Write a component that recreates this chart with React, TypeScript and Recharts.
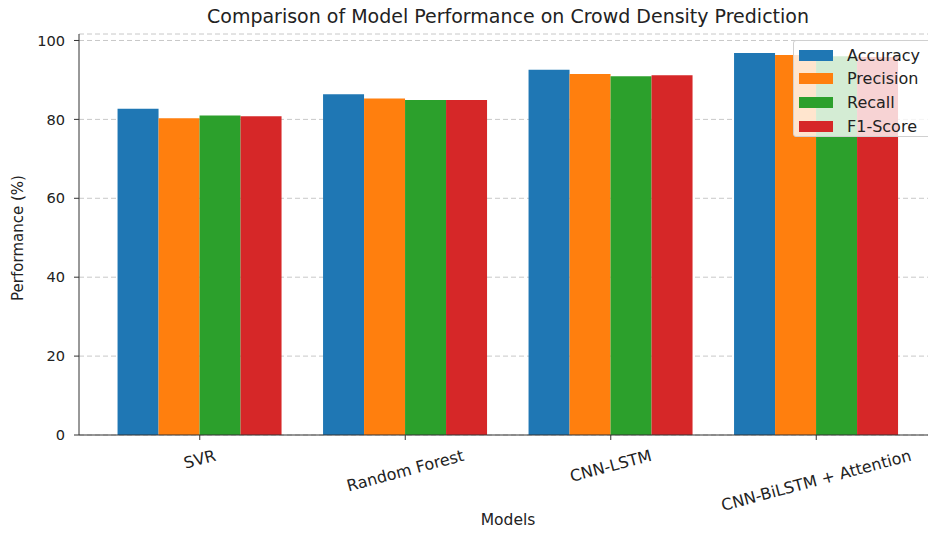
import React from "react"
import { Bar, BarChart, CartesianGrid, XAxis, YAxis } from "recharts"

// values
const models = ["SVR", "Random Forest", "CNN-LSTM", "CNN-BiLSTM + Attention"]
const accuracy = [82.7, 86.4, 92.6, 96.8]
const precision = [80.3, 85.3, 91.5, 96.3]
const recall = [81.0, 84.9, 90.9, 96.0]
const f1Score = [80.8, 84.9, 91.2, 95.8]
const yTicks = [0, 20, 40, 60, 80, 100]

const series = [
  { key: "accuracy", name: "Accuracy", color: "#1f77b4", values: accuracy },
  { key: "precision", name: "Precision", color: "#ff7f0e", values: precision },
  { key: "recall", name: "Recall", color: "#2ca02c", values: recall },
  { key: "f1", name: "F1-Score", color: "#d62728", values: f1Score },
]

const data = models.map((model, i) => {
  const row: Record<string, string | number> = { model }
  series.forEach((s) => (row[s.key] = s.values[i]))
  return row
})

const allValues = series.flatMap((s) => s.values)
const yMax = Math.max(...allValues) * 1.05

const FONT = '"DejaVu Sans", Verdana, sans-serif'
const TEXT = "#222"
const Y_TICK_SIZE = 14.6
const X_TICK_SIZE = 16

let ctx: CanvasRenderingContext2D | null = null
function textWidth(str: string) {
  if (!ctx) ctx = document.createElement("canvas").getContext("2d")
  if (!ctx) return str.length * X_TICK_SIZE * 0.6
  ctx.font = `${X_TICK_SIZE}px ${FONT}`
  return ctx.measureText(str).width
}

// matplotlib style rotated tick: rotated about its centre, hung below the axis
function RotatedTick(props: any) {
  const { x, y, payload } = props
  const a = (15 * Math.PI) / 180
  const w = textWidth(payload.value)
  const h = X_TICK_SIZE * 1.17
  const half = (w * Math.sin(a) + h * Math.cos(a)) / 2
  const cy = y + 3 + half
  return (
    <text
      x={x}
      y={cy}
      textAnchor="middle"
      dominantBaseline="central"
      transform={`rotate(-15 ${x} ${cy})`}
      fill={TEXT}
      fontSize={X_TICK_SIZE}
      fontFamily={FONT}
    >
      {payload.value}
    </text>
  )
}

function LegendBox() {
  return (
    <div
      style={{
        position: "absolute",
        left: 793,
        top: 40,
        width: 140,
        height: 97,
        background: "rgba(255,255,255,0.8)",
        border: "1px solid #d0d0d0",
        borderRadius: 3,
        boxSizing: "border-box",
        fontFamily: FONT,
        fontSize: 16,
        color: TEXT,
      }}
    >
      {series.map((s, i) => (
        <div
          key={s.key}
          style={{
            position: "absolute",
            left: 5,
            top: 4 + i * 23.7,
            height: 20,
            display: "flex",
            alignItems: "center",
            whiteSpace: "nowrap",
          }}
        >
          <span style={{ display: "inline-block", width: 34, height: 11, background: s.color, marginRight: 14 }} />
          <span>{s.name}</span>
        </div>
      ))}
    </div>
  )
}

export default function App() {
  return (
    <div
      style={{
        position: "absolute",
        left: 0,
        top: 0,
        width: 928,
        height: 533,
        overflow: "hidden",
        background: "#fff",
      }}
    >
      <div
        style={{
          position: "absolute",
          left: 0,
          width: 1016,
          top: 5,
          textAlign: "center",
          fontFamily: FONT,
          fontSize: 19,
          color: TEXT,
          whiteSpace: "nowrap",
        }}
      >
        Comparison of Model Performance on Crowd Density Prediction
      </div>
      <div
        style={{
          position: "absolute",
          left: 0,
          width: 1016,
          top: 511,
          textAlign: "center",
          fontFamily: FONT,
          fontSize: 15.5,
          color: TEXT,
        }}
      >
        Models
      </div>
      <div
        style={{
          position: "absolute",
          left: 18,
          top: 238,
          transform: "translate(-50%, -50%) rotate(-90deg)",
          fontFamily: FONT,
          fontSize: 15,
          color: TEXT,
          whiteSpace: "nowrap",
        }}
      >
        Performance (%)
      </div>
      <div style={{ position: "absolute", left: 0, top: 0 }}>
        <BarChart
          width={945}
          height={533}
          data={data}
          margin={{ top: 34, right: 8, bottom: 0, left: 0 }}
          barCategoryGap="10%"
          barGap={0}
        >
          <XAxis
            dataKey="model"
            height={98}
            interval={0}
            padding={{ left: 18, right: 18 }}
            axisLine={{ stroke: "#333" }}
            tickLine={{ stroke: "#333" }}
            tickSize={5}
            tickMargin={3}
            tick={<RotatedTick />}
          />
          <XAxis xAxisId="top" dataKey="model" orientation="top" height={0} tick={false} tickLine={false} axisLine={{ stroke: "#333" }} />
          <YAxis
            width={79}
            domain={[0, yMax]}
            ticks={yTicks}
            allowDataOverflow
            axisLine={{ stroke: "#333" }}
            tickLine={{ stroke: "#333" }}
            tickSize={5}
            tickMargin={9}
            tick={{ fill: TEXT, fontSize: Y_TICK_SIZE, fontFamily: FONT }}
          />
          {series.map((s) => (
            <Bar key={s.key} dataKey={s.key} name={s.name} fill={s.color} isAnimationActive={false} />
          ))}
          <CartesianGrid vertical={false} stroke="#c8c8c8" strokeDasharray="5 3" />
        </BarChart>
      </div>
      <LegendBox />
    </div>
  )
}
